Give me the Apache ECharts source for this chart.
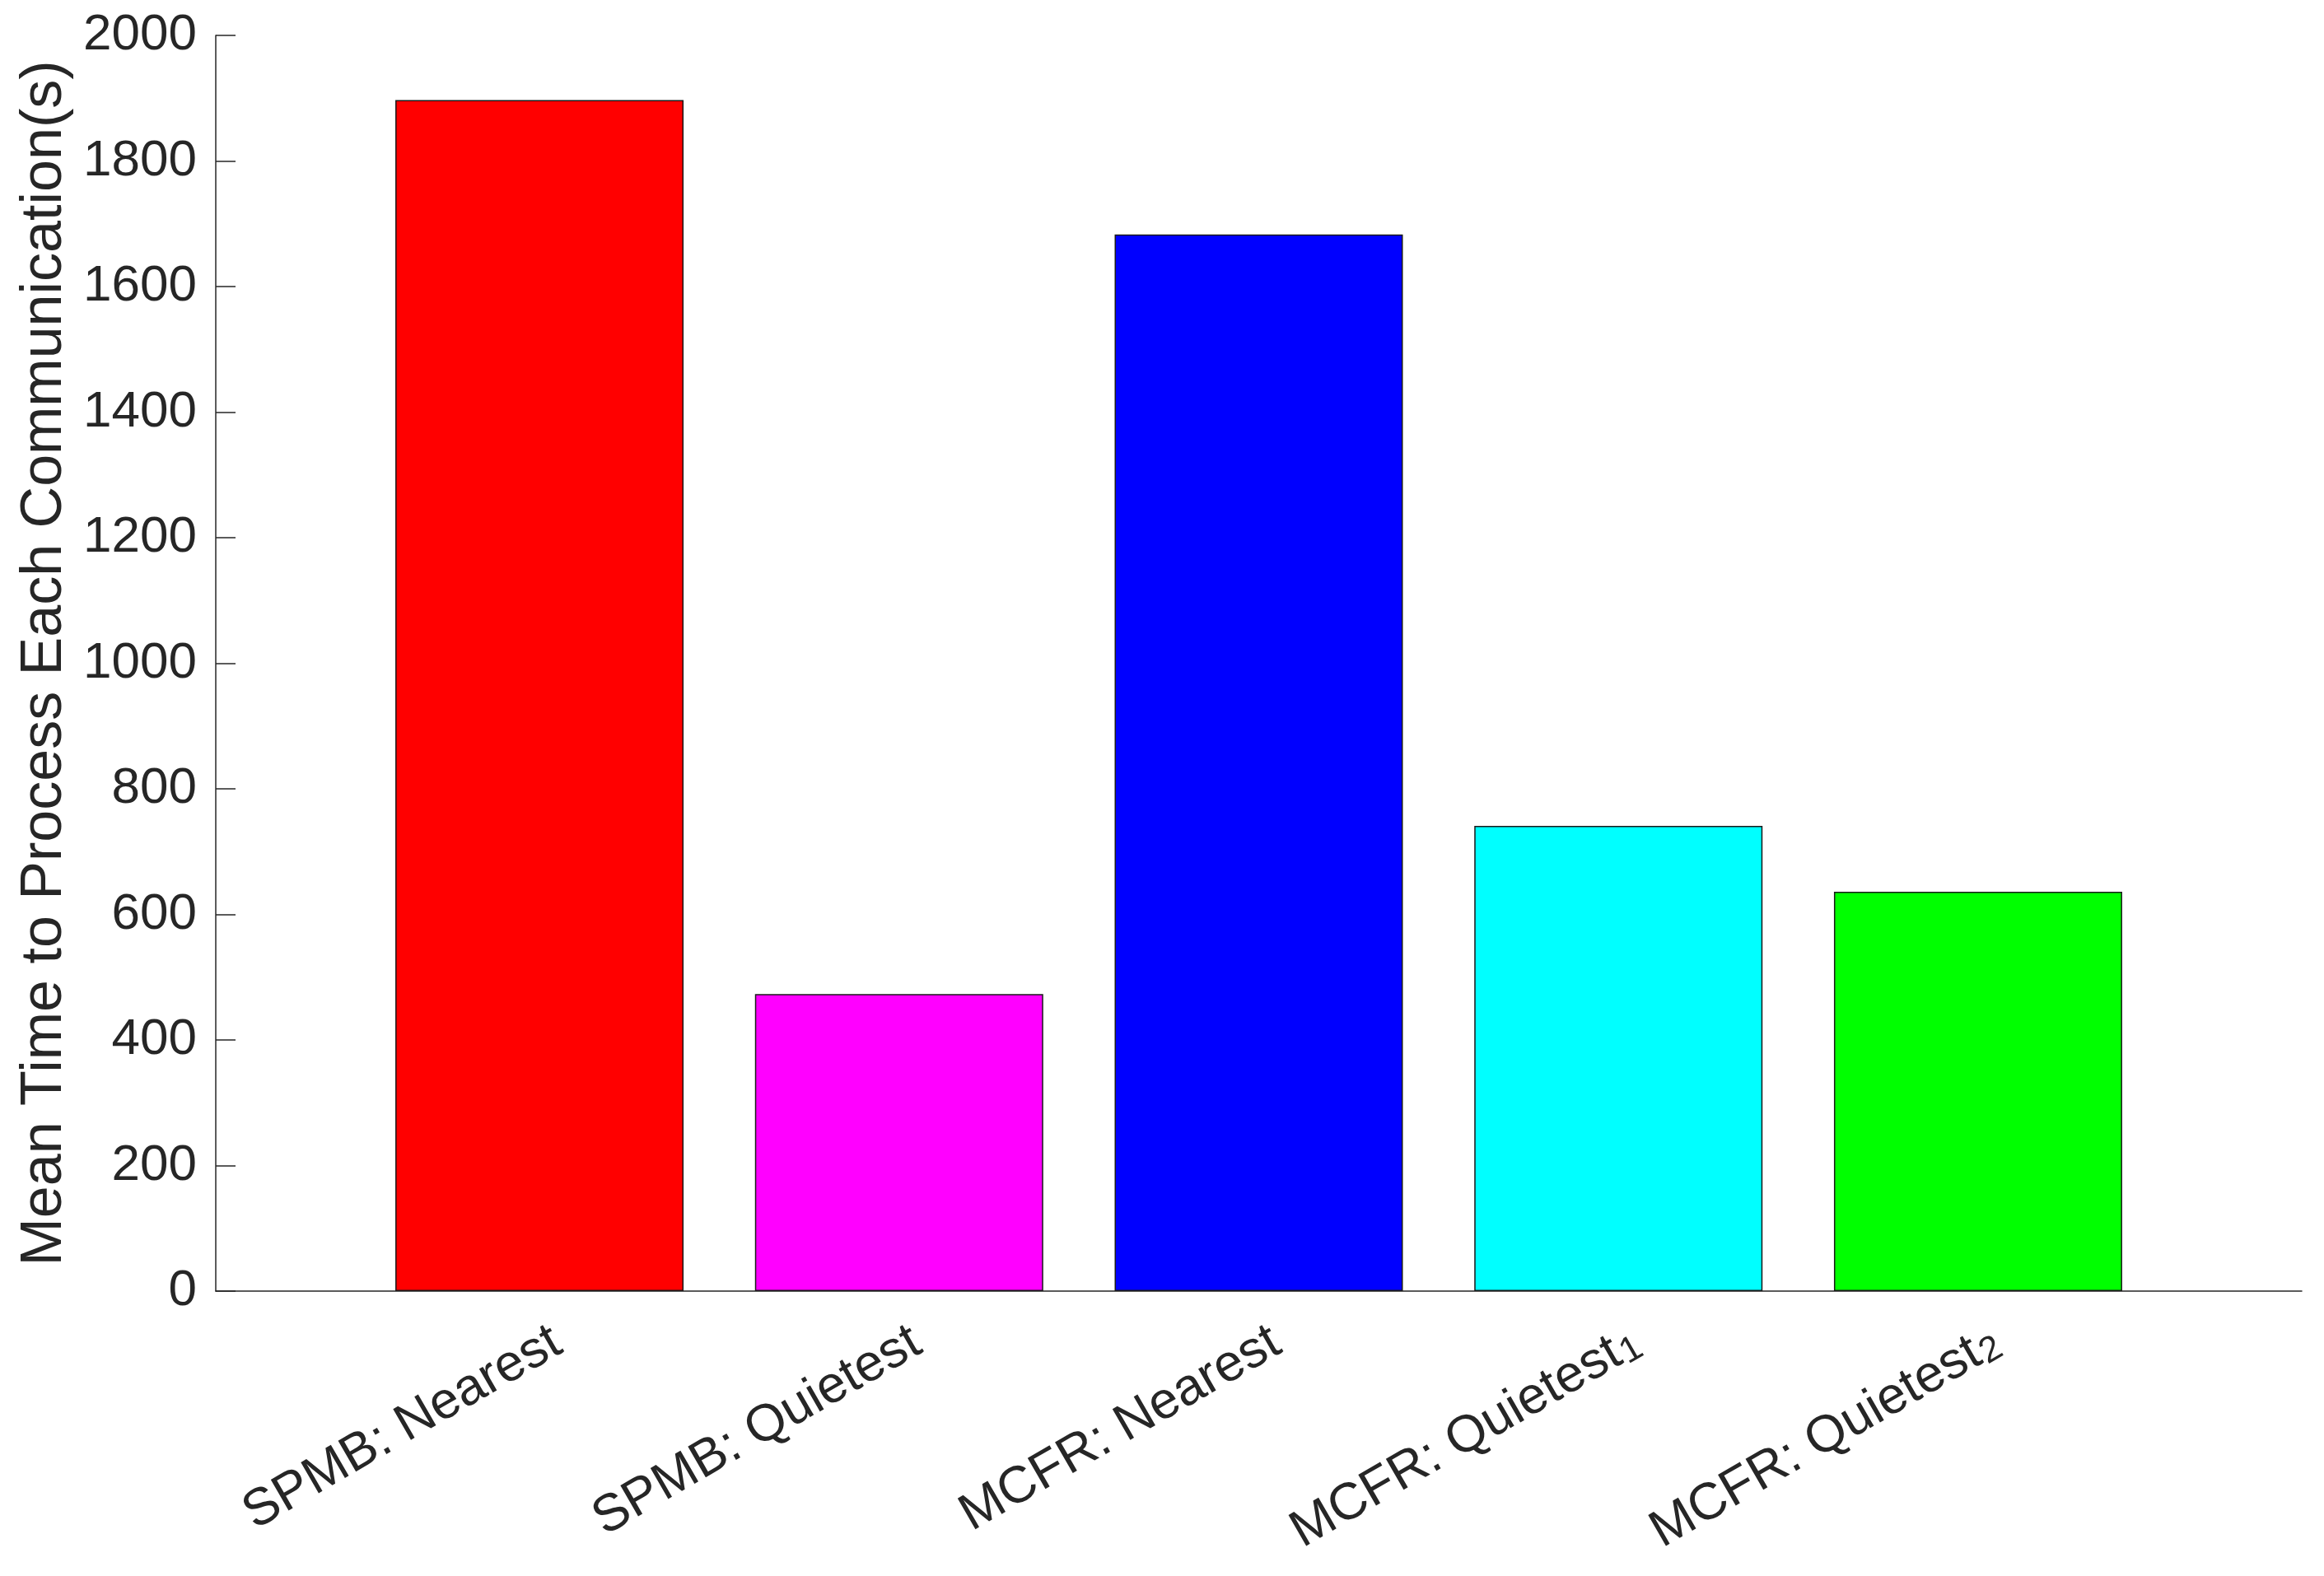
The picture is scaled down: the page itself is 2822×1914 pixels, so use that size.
<!DOCTYPE html>
<html>
<head>
<meta charset="utf-8">
<title>Mean Time to Process Each Communication</title>
<script src="https://cdn.jsdelivr.net/npm/echarts@6/dist/echarts.min.js"></script>
<style>
  html, body { margin: 0; padding: 0; background: #fff; }
  #chart { width: 2822px; height: 1914px; }
</style>
</head>
<body>
<div id="chart"></div>
<script>
// categories (rich-text names, subscripts marked with {sub|..})
const categories = [
  '{n|SPMB: Nearest}',
  '{n|SPMB: Quietest}',
  '{n|MCFR: Nearest}',
  '{n|MCFR: Quietest}{sub|1}',
  '{n|MCFR: Quietest}{sub|2}'
]
const meanTimes = [1897, 473, 1683, 741, 636]
const barColors = ['#ff0000', '#ff00ff', '#0000ff', '#00ffff', '#00ff00']
const yTicks = { min: 0, max: 2000, step: 200 }

const textColor = '#262626'
const font = 'Liberation Sans, Arial, sans-serif'

const chart = echarts.init(document.getElementById('chart'))

// bar positions are 1..n on a value axis (matlab-style xlim 0.1..5.9)
const barData = meanTimes.map((v, i) => ({
  value: [i + 1, v],
  itemStyle: { color: barColors[i] }
}))

// label anchors nudged right a little, like matlab's rotated tick labels
const labelPos = categories.map((c, i) => i + 1.05)

const option = {
  animation: false,
  backgroundColor: '#ffffff',
  grid: {
    left: 262,
    right: 27,
    top: 43,
    bottom: 346
  },
  xAxis: {
    type: 'value',
    min: 0.1,
    max: 5.9,
    axisLine: { show: true, onZero: false, lineStyle: { color: textColor, width: 1.5 } },
    axisTick: { show: false },
    splitLine: { show: false },
    axisLabel: {
      customValues: labelPos,
      rotate: 30,
      margin: 58,
      color: textColor,
      fontFamily: font,
      formatter: v => categories[Math.round(v) - 1] || '',
      rich: {
        n: { fontSize: 63, lineHeight: 63, fontFamily: font, color: textColor, verticalAlign: 'top' },
        sub: { fontSize: 44, lineHeight: 44, fontFamily: font, color: textColor, verticalAlign: 'bottom', padding: [30, 0, 0, 2] }
      }
    }
  },
  yAxis: {
    type: 'value',
    min: yTicks.min,
    max: yTicks.max,
    interval: yTicks.step,
    name: 'Mean Time to Process Each Communication(s)',
    nameLocation: 'middle',
    nameGap: 162,
    nameTextStyle: { fontSize: 70, color: textColor, fontFamily: font },
    axisLine: { show: true, onZero: false, lineStyle: { color: textColor, width: 1.5 } },
    axisTick: { show: true, inside: true, length: 24, lineStyle: { color: textColor, width: 1.5 } },
    splitLine: { show: false },
    axisLabel: {
      fontSize: 62,
      color: textColor,
      fontFamily: font,
      margin: 23,
      formatter: v => String(v)
    }
  },
  series: [
    {
      type: 'bar',
      barWidth: 350,
      data: barData,
      itemStyle: { borderColor: '#1a1a1a', borderWidth: 1.5 }
    }
  ]
}

chart.setOption(option)
</script>
</body>
</html>
